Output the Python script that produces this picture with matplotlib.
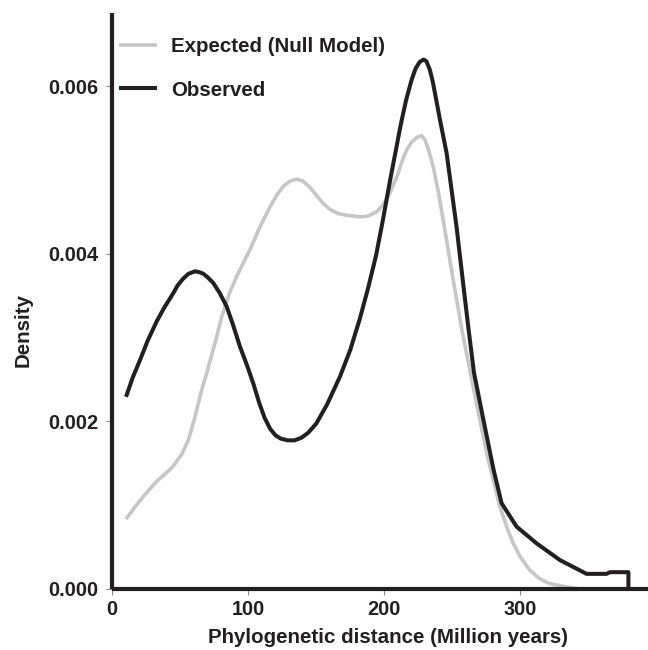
import matplotlib
matplotlib.use("Agg")
import matplotlib.pyplot as plt

# Expected (null model) density curve
exp_x = [10, 16, 22.8, 32.6, 43.7, 51, 55.9, 58, 60.8, 65.7, 69.4, 76.8, 80.5, 86, 91.5,
         101.3, 108, 116, 121, 126, 131, 135.6, 140, 145, 150, 155.1, 160, 166, 172.3, 182.1,
         188, 194.4, 199, 204, 210, 213, 216.5, 220, 224, 227.5, 230, 233, 236, 240, 243.4,
         250.7, 257, 265.4, 275.3, 285, 290, 294.9, 300, 307, 314, 321.3, 333.8, 342]
exp_y = [0.00083, 0.00096, 0.00110, 0.00128, 0.00144, 0.00160, 0.00177, 0.00189, 0.00205,
         0.00237, 0.00257, 0.00301, 0.00325, 0.00352, 0.00373, 0.00405, 0.00430, 0.00456,
         0.00470, 0.00481, 0.00487, 0.00489, 0.00487, 0.00480, 0.00470, 0.00460, 0.00453,
         0.00448, 0.00446, 0.00444, 0.00445, 0.00450, 0.00458, 0.00472, 0.00495, 0.00510,
         0.00524, 0.00533, 0.00539, 0.00541, 0.00536, 0.00522, 0.00504, 0.00472, 0.00440,
         0.00369, 0.00310, 0.00241, 0.00162, 0.00098, 0.00074, 0.00054, 0.00038, 0.00022,
         0.00012, 0.00006, 0.00002, 0.0]

# Observed density curve
obs_x = [10.1, 15, 20.4, 26, 32.6, 38, 44.9, 48, 52, 56, 60.8, 64, 67, 70, 74.3, 79, 84.1,
         89, 93.9, 99, 103.7, 108, 112, 116, 120, 124, 129, 134, 139, 144, 150, 158,
         167.4, 175, 182, 188, 194, 199, 204, 208.6, 212, 216, 220, 223, 226, 229, 231,
         233.5, 235.5, 237.3, 241, 245.9, 253.2, 258, 262, 266, 273, 280.4, 286.3, 297.3,
         312, 329.2, 348.8, 363.5, 366, 379.6, 379.6]
obs_y = [0.00229, 0.00252, 0.00273, 0.00296, 0.00319, 0.00335, 0.00353, 0.00362, 0.00370,
         0.00376, 0.00379, 0.00378, 0.00376, 0.00372, 0.00365, 0.00353, 0.00337, 0.00314,
         0.00289, 0.00267, 0.00245, 0.00222, 0.00204, 0.00191, 0.00183, 0.00179, 0.00177,
         0.00177, 0.00180, 0.00186, 0.00197, 0.00220, 0.00253, 0.00285, 0.00322, 0.00358,
         0.00398, 0.00440, 0.00485, 0.00524, 0.00553, 0.00583, 0.00607, 0.00621, 0.00629,
         0.00632, 0.00630, 0.00620, 0.00607, 0.00592, 0.00560, 0.00520, 0.00432, 0.00365,
         0.00310, 0.00258, 0.00201, 0.00142, 0.00102, 0.00074, 0.00054, 0.00034, 0.000175,
         0.000175, 0.000195, 0.000195, 0.0]

x_ticks = [0, 100, 200, 300]
y_ticks = [0.000, 0.002, 0.004, 0.006]
y_tick_labels = ["0.000", "0.002", "0.004", "0.006"]

INK = "#231f20"
GRAY = "#c6c6c6"
FS = 14.8

plt.rcParams['font.family'] = ['Liberation Sans', 'DejaVu Sans']
plt.rcParams['font.weight'] = 'bold'

fig = plt.figure(figsize=(6.48, 6.5), dpi=100)
ax = fig.add_axes([112.3 / 648, 1 - 588.5 / 650, 1 - 112.3 / 648, (588.5 - 13) / 650])

ax.plot(exp_x, exp_y, color=GRAY, lw=2.6, solid_capstyle='butt', solid_joinstyle='round',
        label="Expected (Null Model)")
ax.plot(obs_x, obs_y, color=INK, lw=2.9, solid_capstyle='butt', solid_joinstyle='round',
        label="Observed")

ax.set_xlim(0, 394)
ax.set_ylim(0, 0.006876)
ax.set_xticks(x_ticks)
ax.set_xticklabels([str(t) for t in x_ticks])
ax.set_yticks(y_ticks)
ax.set_yticklabels(y_tick_labels)

for s in ['top', 'right']:
    ax.spines[s].set_visible(False)
for s in ['left', 'bottom']:
    ax.spines[s].set_linewidth(3)
    ax.spines[s].set_color(INK)
    ax.spines[s].set_capstyle('butt')

ax.tick_params(axis='both', length=4, width=0.8, color="#888888", labelsize=14.4,
               labelcolor=INK)
ax.tick_params(axis='y', pad=6)
ax.tick_params(axis='x', pad=4)
for lab in ax.get_xticklabels() + ax.get_yticklabels():
    lab.set_fontweight('bold')

ax.set_xlabel("Phylogenetic distance (Million years)", fontsize=FS, fontweight='bold',
              color=INK)
ax.set_ylabel("Density", fontsize=FS, fontweight='bold', color=INK)
ax.xaxis.set_label_coords((388 - 112.3) / (648 - 112.3), -(628 - 588.5) / 575.5)
ax.yaxis.set_label_coords((33 - 112.3) / (648 - 112.3), (588.5 - 330) / 575.5)

leg = ax.legend(loc='upper left', bbox_to_anchor=((119 - 112.3) / 535.7, (588.5 - 37) / 575.5),
                frameon=False, handlelength=1.85, handletextpad=0.7, labelspacing=1.2,
                borderaxespad=0, borderpad=0,
                prop={'family': ['Liberation Sans', 'DejaVu Sans'], 'weight': 'bold', 'size': FS})
for t in leg.get_texts():
    t.set_color(INK)

fig.savefig("out.png", dpi=100)
